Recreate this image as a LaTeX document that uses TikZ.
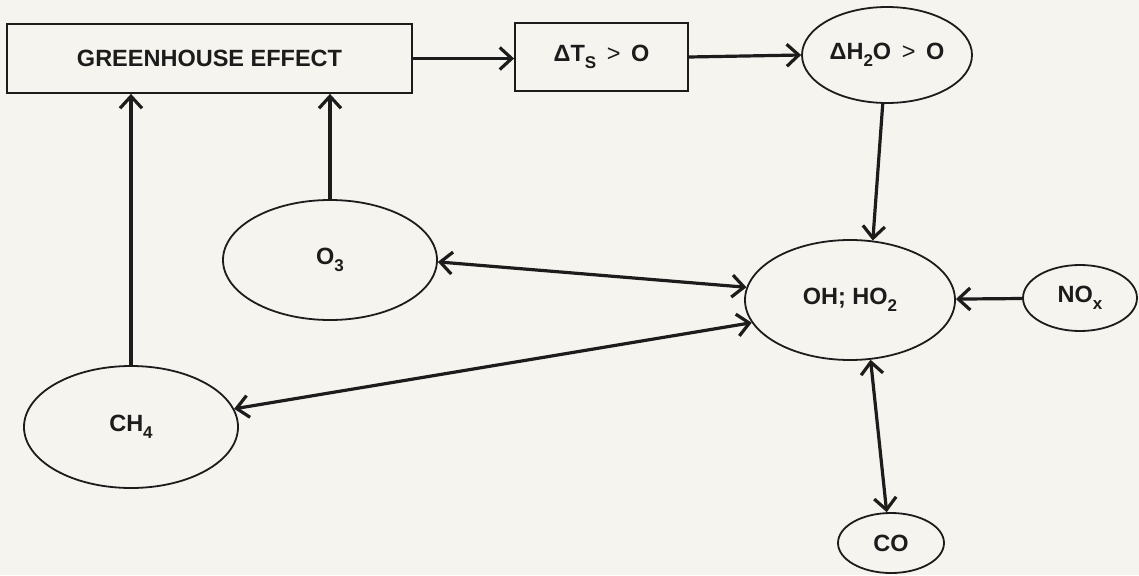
\documentclass[tikz,border=0pt]{standalone}
\usepackage{fontspec}
\setmainfont{Liberation Sans}
\usetikzlibrary{arrows.meta,shapes.geometric,calc}
\definecolor{paper}{RGB}{246,244,238}
\definecolor{ink}{RGB}{28,28,28}
\newcommand{\mysub}[1]{\raisebox{-0.3em}{\fontsize{17}{17}\selectfont\bfseries #1}}
\newcommand{\gtsign}{\hspace{0.45em}{\mdseries >}\hspace{0.45em}}
\begin{document}
\begin{tikzpicture}[x=1pt,y=-1pt,
  txt/.style={font=\fontsize{23.5}{27}\selectfont\bfseries, text=ink},
  boxnode/.style={draw=ink, line width=1.8pt, rectangle, inner sep=0pt, txt},
  ell/.style={draw=ink, line width=1.8pt, ellipse, inner sep=0pt, txt},
  conn/.style={draw=ink, line width=3.2pt, line cap=butt,
    -{Straight Barb[length=12pt,width=22pt,line width=3.2pt]}},
  biconn/.style={draw=ink, line width=3.2pt,
    {Straight Barb[length=12pt,width=22pt,line width=3.2pt]}-{Straight Barb[length=12pt,width=22pt,line width=3.2pt]}},
]
\fill[paper] (0,0) rectangle (1139,575);
\useasboundingbox (0,0) rectangle (1139,575);

\node[boxnode, minimum width=405pt, minimum height=69pt] (gh) at (209.5,58.5) {GREENHOUSE EFFECT};
\node[boxnode, minimum width=173pt, minimum height=68pt] (dts) at (601.5,57) {ΔT\mysub{S}\gtsign O};
\node[ell, minimum width=170pt, minimum height=96pt] (dh) at (887,55) {ΔH\mysub{2}O\gtsign O};
\node[ell, minimum width=214pt, minimum height=120pt] (o3) at (330,260) {O\mysub{3}};
\node[ell, minimum width=210pt, minimum height=120pt] (oh) at (850,300) {OH; HO\mysub{2}};
\node[ell, minimum width=114pt, minimum height=66pt] (nox) at (1080,298) {NO\mysub{x}};
\node[ell, minimum width=214pt, minimum height=122pt] (ch4) at (131,427) {CH\mysub{4}};
\node[ell, minimum width=106pt, minimum height=60pt] (co) at (891,543) {CO};

\draw[conn] (gh.east) -- (gh.east -| dts.west);
\draw[conn] (dts.east) -- (dh.west);
\draw[conn] (dh.-95) -- (oh.69.5);
\draw[conn] (nox) -- (oh);
\draw[biconn] (o3.-1) -- (oh.173);
\draw[biconn] (ch4.10) -- (oh.-167);
\draw[biconn] (oh.-71) -- (co.98);
\draw[conn] (o3.north) -- (o3.north |- gh.south);
\draw[conn] (ch4.north) -- (ch4.north |- gh.south);
\end{tikzpicture}
\end{document}
